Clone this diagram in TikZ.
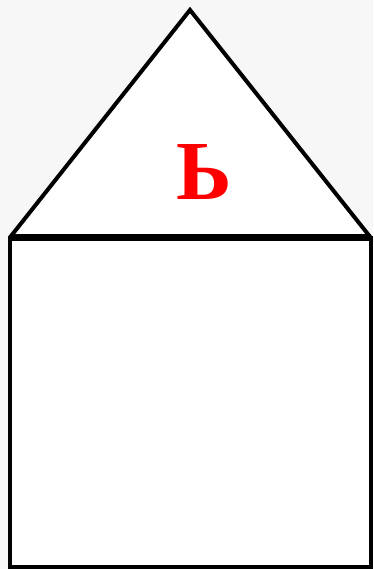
\documentclass[tikz,border=0pt]{standalone}
\usepackage{fontspec}
\setmainfont{Liberation Serif}
\usetikzlibrary{positioning}
\definecolor{Paper}{HTML}{F7F7F7}
\definecolor{Letter}{HTML}{FF0000}
\tikzset{
 wall/.style={draw=black,line width=4pt,fill=white,line join=miter},
 beam/.style={draw=black,line width=7pt},
 glyph/.style={text=Letter,font=\fontsize{84}{84}\selectfont\bfseries,inner sep=0pt}
}
\begin{document}
\begin{tikzpicture}[x=1pt,y=1pt]
\fill[Paper] (0,0) rectangle (373,569);
\useasboundingbox (0,0) rectangle (373,569);
% corners of the house
\coordinate (bl) at (9.5,2);
\coordinate (br) at (371,2);
\coordinate (el) at (9.5,331);
\coordinate (er) at (371,331);
\coordinate (apex) at (190,559);
\draw[wall] (bl) rectangle (er);
\draw[wall] (el) -- (apex) -- (er);
\draw[beam] (el) -- (er);
\node[glyph] (soft) at (204,397) {Ь};
\end{tikzpicture}
\end{document}
